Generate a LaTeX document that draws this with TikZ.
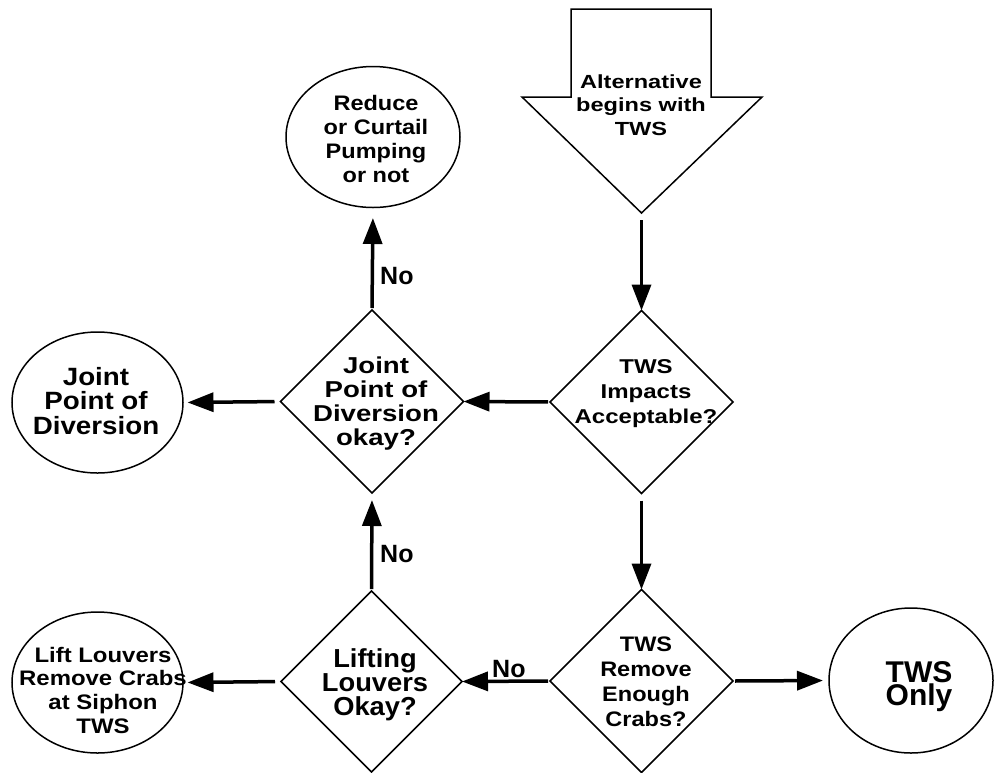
\documentclass[tikz,border=0pt]{standalone}
\usepackage{fontspec}
\setmainfont{Liberation Sans}
\usepackage{graphicx}
\usetikzlibrary{shapes.geometric,arrows.meta}
\newcommand\ftxt[4]{\scalebox{#1}[1]{\fontsize{#2}{#3}\selectfont\bfseries\vbox{\baselineskip=#3pt\lineskiplimit=-\maxdimen\halign{\hfil\rule[-.3\baselineskip]{0pt}{\baselineskip}##\hfil\cr#4\crcr}}}}
\tikzset{
  outl/.style={draw=black,line width=1.5pt,fill=white},
  dia/.style={outl,shape=diamond,aspect=1,minimum width=183pt,minimum height=183pt,inner sep=0pt,outer sep=0pt},
  ell/.style={outl,shape=ellipse,inner sep=0pt,outer sep=0pt},
  txt/.style={inner sep=0pt,outer sep=0pt},
  arr/.style={line width=3.5pt,-{Triangle[length=26pt,width=19pt]}},
  nolab/.style={inner sep=0pt,anchor=base west,font=\fontsize{25}{28}\selectfont\bfseries}
}
\begin{document}
\begin{tikzpicture}[x=1pt,y=-1pt]
\useasboundingbox (0,0) rectangle (995,772);
% start block arrow
\draw[outl] (571,9) -- (711,9) -- (711,97) -- (762,97) -- (641.5,213) -- (522,97) -- (571,97) -- cycle;
\coordinate (blktip) at (641.5,213);
\node[txt] (tAlt) at (641,106.8) {\ftxt{1.24}{19}{23.5}{Alternative\cr begins with\cr TWS}};
% shapes
\node[dia] (dImp) at (641.5,402) {};
\node[dia] (dJoint) at (372,401.5) {};
\node[dia] (dRem) at (641.5,681) {};
\node[dia,minimum width=181pt,minimum height=181pt] (dLift) at (371.5,681.5) {};
\node[ell,minimum width=174pt,minimum height=141pt] (eRed) at (373,137) {};
\node[ell,minimum width=171pt,minimum height=141pt] (eJoint) at (97.5,402.5) {};
\node[ell,minimum width=171pt,minimum height=141pt] (eLift) at (97.5,682.5) {};
\node[ell,minimum width=164pt,minimum height=145pt] (eOnly) at (911,680.5) {};
% texts
\node[txt] (tImp) at (646,393) {\ftxt{1.2}{20}{25}{TWS\cr Impacts\cr Acceptable?}};
\node[txt] (tJoint) at (376,404.7) {\ftxt{1.2}{23}{24.1}{Joint\cr Point of\cr Diversion\cr okay?}};
\node[txt] (tRem) at (646,684) {\ftxt{1.12}{21}{24.7}{TWS\cr Remove\cr Enough\cr Crabs?}};
\node[txt] (tLift) at (375,686) {\ftxt{1.05}{26}{24}{Lifting\cr Louvers\cr Okay?}};
\node[txt] (tRed) at (376,141.2) {\ftxt{1.12}{21}{24}{Reduce\cr or Curtail\cr Pumping\cr or not}};
\node[txt] (tJE) at (96,404.6) {\ftxt{1.11}{25}{24.5}{Joint\cr Point of\cr Diversion}};
\node[txt] (tLE) at (103,692.8) {\ftxt{1.14}{21}{23.7}{Lift Louvers\cr Remove Crabs\cr at Siphon\cr TWS}};
\node[txt] (tOnly) at (919,686.9) {\ftxt{1}{30}{23}{TWS\cr Only}};
% connectors
\draw[arr,shorten <=7pt] (blktip) -- (dImp.north);
\draw[arr,shorten <=2pt] (dImp.west) -- (dJoint.east);
\draw[arr,shorten <=6pt,shorten >=4.5pt] (dJoint.west) -- (eJoint.east);
\draw[arr,shorten <=2pt,shorten >=10.5pt] (dJoint.north) -- (eRed.south);
\draw[arr,shorten <=7pt] (dImp.south) -- (dRem.north);
\draw[arr,shorten <=2pt] (dRem.west) -- (dLift.east);
\draw[arr,shorten <=6pt,shorten >=4.5pt] (dLift.west) -- (eLift.east);
\draw[arr,shorten <=2pt,shorten >=7pt] (dLift.north) -- (dJoint.south);
\draw[arr,shorten <=2pt,shorten >=6pt] (dRem.east) -- (eOnly.west);
% labels
\node[nolab] (no1) at (380,284) {No};
\node[nolab] (no2) at (380,562) {No};
\node[nolab] (no3) at (492,677) {No};
\end{tikzpicture}
\end{document}
